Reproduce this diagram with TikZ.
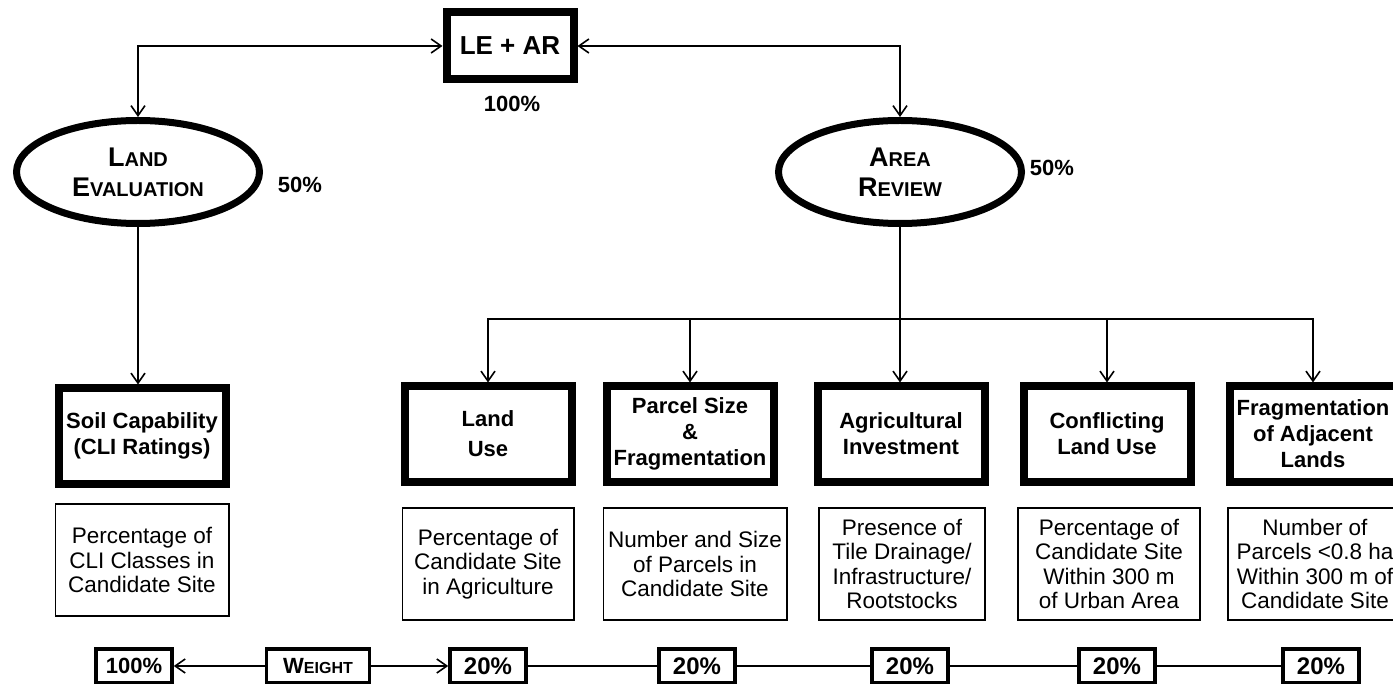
\documentclass[tikz,border=0pt]{standalone}
\usepackage{fontspec}
\setmainfont{Liberation Sans}
\usepackage{tikz}
\usetikzlibrary{positioning}
\usetikzlibrary{arrows.meta}
\usetikzlibrary{shapes.geometric}

\newcommand{\fakesc}[3][10]{#2{\fontsize{#1}{15}\selectfont #3}}

\begin{document}
\begin{tikzpicture}[x=0.5pt, y=-0.5pt, >={Straight Barb[length=5pt,width=7pt]}, line width=0.8pt]

\tikzset{%
    every factor/.style = {
        draw,
        line width=4pt,
        minimum width=83.5pt,
        minimum height=47.5pt,
        align=center,
        inner sep=1pt,
        font=\bfseries\fontsize{11}{13}\selectfont
    },
    every measure/.style = {
        draw,
        line width=0.8pt,
        minimum height=56pt,
        align=center,
        inner sep=1pt,
        font=\fontsize{11.25}{12.25}\selectfont
    },
    every branch/.style = {
        ellipse,
        draw,
        line width=3.5pt,
        minimum width=121.5pt,
        minimum height=51.5pt,
        align=center,
        inner sep=0pt,
        font=\bfseries\fontsize{13.5}{15}\selectfont
    },
    every weight/.style = {
        draw,
        line width=1.8pt,
        minimum width=38pt,
        minimum height=17.2pt,
        inner sep=1pt,
        font=\bfseries\fontsize{11}{13}\selectfont
    },
    share/.style = {
        font=\bfseries\fontsize{11}{13}\selectfont
    }
}

\useasboundingbox (0,0) rectangle (1393,684);
\clip (0,0) rectangle (1393,684);

\node [every factor/.try, minimum width=63.5pt, minimum height=33.5pt,
  font=\bfseries\fontsize{13}{15}\selectfont] (total) at (510,46) {LE + AR};
\node [share] (total-share) at (512,104) {100\%};

\node [every branch/.try] (le) at (138,172) {\fakesc{L}{AND}\\\fakesc{E}{VALUATION}};
\node [every branch/.try] (ar) at (900,172) {\fakesc{A}{REA}\\\fakesc{R}{EVIEW}};
\node [share] (le-share) at (300,185) {50\%};
\node [share] (ar-share) at (1052,168) {50\%};

\draw [<->] (le.north) |- (total.west);
\draw [<->] (ar.north) |- (total.east);

\node [every factor/.try] (soil) at (142,436) {Soil Capability\\(CLI Ratings)};
\draw [->] (le.south) -- (le.south |- soil.north);

\foreach \x/\l [count=\i] in {488/{Land\\[2pt]Use}, 690/{Parcel Size\\\&\\Fragmentation},
    901/{Agricultural\\Investment}, 1107/{Conflicting\\Land Use},
    1313/{Fragmentation\\of Adjacent\\Lands}}
  \node [every factor/.try] (factor-\i) at (\x,434) {\l};

\coordinate (bus) at (901,319);
\draw [->] (ar.south) -- (ar.south |- factor-3.north);
\foreach \i in {1,2,4,5}
  \draw [->] (ar.south |- bus) -| (factor-\i.north);

\node [every measure/.try, minimum width=86.7pt] (soil-measure) at (142,560)
  {Percentage of\\CLI Classes in\\Candidate Site};

\foreach \x/\w/\l [count=\i] in {488/85.7/{Percentage of\\Candidate Site\\in Agriculture},
    695/91.7/{Number and Size\\of Parcels in\\Candidate Site},
    902/83.2/{Presence of\\Tile Drainage/\\Infrastructure/\\Rootstocks},
    1109/91.2/{Percentage of\\Candidate Site\\Within 300 m\\of Urban Area},
    1315/87.2/{Number of\\Parcels <0.8 ha\\Within 300 m of\\Candidate Site}}
  \node [every measure/.try, minimum width=\w pt] (measure-\i) at (\x,564) {\l};

\node [every weight/.try] (weight-total) at (134,666) {100\%};
\node [every weight/.try, minimum width=51.5pt] (weight) at (318,666)
  {\fakesc[8]{W}{EIGHT}};

\foreach \x [count=\i] in {488,697,910,1117,1321}
  \node [every weight/.try, font=\bfseries\fontsize{12}{13}\selectfont] (weight-\i) at (\x,666) {20\%};

\draw [->] (weight) -- (weight-total);
\draw [->] (weight) -- (weight-1);
\foreach \i/\j in {1/2,2/3,3/4,4/5}
  \draw (weight-\i) -- (weight-\j);

\end{tikzpicture}
\end{document}
